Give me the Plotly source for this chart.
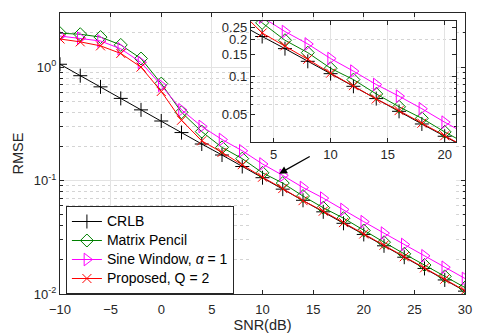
import math
import plotly.graph_objects as go

# ---------------- data ----------------
snr = [-10, -8, -6, -4, -2, 0, 2, 4, 6, 8, 10, 12, 14, 16, 18, 20, 22, 24, 26, 28, 30]
crlb = [1.06, 0.84, 0.67, 0.53, 0.42, 0.335, 0.265, 0.21, 0.168, 0.133, 0.106,
        0.084, 0.067, 0.053, 0.042, 0.0335, 0.0266, 0.0211, 0.0168, 0.0133, 0.0106]
matrix_pencil = [1.99, 1.95, 1.84, 1.57, 1.19, 0.716, 0.40, 0.27, 0.196, 0.156, 0.117,
                 0.095, 0.073, 0.0576, 0.0466, 0.0363, 0.0286, 0.0226, 0.018, 0.0143, 0.0114]
sine_window = [1.88, 1.80, 1.70, 1.45, 1.10, 0.69, 0.42, 0.30, 0.23, 0.183, 0.14,
               0.111, 0.0868, 0.070, 0.0556, 0.0434, 0.0344, 0.0273, 0.0217, 0.0172, 0.0137]
proposed = [1.77, 1.67, 1.54, 1.32, 1.0, 0.61, 0.34, 0.224, 0.177, 0.138, 0.107,
            0.085, 0.0665, 0.0537, 0.0426, 0.0338, 0.0269, 0.0213, 0.017, 0.0135, 0.0107]

series_names = ["CRLB", "Matrix Pencil", "Sine Window, <i>α</i> = 1", "Proposed, Q = 2"]
series_vals = [crlb, matrix_pencil, sine_window, proposed]

main_yticks = [0.01, 0.1, 1]
main_yticktext = ["10<sup>-2</sup>", "10<sup>-1</sup>", "10<sup>0</sup>"]
main_xticks = [-10, -5, 0, 5, 10, 15, 20, 25, 30]
inset_xticks = [5, 10, 15, 20]
inset_yticks = [0.05, 0.1, 0.15, 0.2, 0.25]
inset_yticktext = ["0.05", "0.1", "0.15", "0.2", "0.25"]

# ---------------- styles ----------------
colors = ["#000000", "#008000", "#ff00ff", "#ff0000"]
symbols = ["cross-thin-open", "diamond-open", "triangle-right-open", "x-thin-open"]
sizes = [10, 10, 11, 9]
FONT = "Liberation Sans, Arial, Helvetica, sans-serif"
AX = "#262626"
GRID = "#e3e3e3"
MINOR = "#d4d4d4"

X_RANGE = [-10, 30]
Y_RANGE = [-2, math.log10(3)]

fig = go.Figure()
for name, vals, c, s, sz in zip(series_names, series_vals, colors, symbols, sizes):
    fig.add_trace(go.Scatter(
        x=snr, y=vals, name='<span style="font-size:14px">' + name + '</span>',
        mode="lines+markers",
        line=dict(color=c, width=1),
        marker=dict(symbol=s, size=sz, color=c, line=dict(color=c, width=1)),
        xaxis="x", yaxis="y"))
for name, vals, c, s, sz in zip(series_names, series_vals, colors, symbols, sizes):
    fig.add_trace(go.Scatter(
        x=snr, y=vals, name=name, mode="lines+markers", showlegend=False,
        line=dict(color=c, width=1),
        marker=dict(symbol=s, size=sz, color=c, line=dict(color=c, width=1)),
        xaxis="x2", yaxis="y2"))

minor_main = [k * 10 ** e for e in (-2, -1) for k in range(2, 10)] + [2, 3]
minor_inset = [0.03, 0.04, 0.06, 0.07, 0.08, 0.09, 0.1, 0.2]

inset_dom_x = [0.471, 0.978]
inset_dom_y = [0.540, 0.972]

fig.update_layout(
    width=480, height=336,
    margin=dict(l=60, r=8, t=13, b=34),
    paper_bgcolor="white", plot_bgcolor="white",
    font=dict(family=FONT, size=13, color=AX),
    xaxis=dict(
        domain=[0, 1], range=X_RANGE, tickvals=main_xticks,
        showline=True, linecolor=AX, linewidth=1, mirror="allticks",
        ticks="inside", ticklen=4, tickcolor=AX, ticklabelstandoff=3,
        showgrid=True, gridcolor=GRID, gridwidth=1, zeroline=False,
        title=dict(text="SNR(dB)", font=dict(size=14.5), standoff=1),
        tickfont=dict(size=13), anchor="y"),
    yaxis=dict(
        domain=[0, 1], type="log", range=Y_RANGE,
        tickvals=main_yticks, ticktext=main_yticktext,
        showline=True, linecolor=AX, linewidth=1, mirror="allticks",
        ticks="inside", ticklen=4, tickcolor=AX,
        showgrid=True, gridcolor=GRID, gridwidth=1, zeroline=False,
        minor=dict(tickmode="array", tickvals=minor_main, ticks="inside", ticklen=2.5,
                   tickcolor=AX, showgrid=True, gridcolor=MINOR, griddash="dot"),
        title=dict(text="RMSE", font=dict(size=14.5), standoff=6),
        tickfont=dict(size=13), anchor="x"),
    xaxis2=dict(
        domain=inset_dom_x, range=[3, 21], tickvals=inset_xticks,
        showline=True, linecolor=AX, linewidth=1, mirror="allticks",
        ticks="inside", ticklen=4, tickcolor=AX,
        showgrid=True, gridcolor=GRID, zeroline=False,
        tickfont=dict(size=13), anchor="y2"),
    yaxis2=dict(
        domain=inset_dom_y, type="log", range=[math.log10(0.03), math.log10(0.28)],
        tickvals=inset_yticks, ticktext=inset_yticktext,
        showline=True, linecolor=AX, linewidth=1, mirror="allticks",
        ticks="inside", ticklen=4, tickcolor=AX,
        showgrid=False, zeroline=False,
        minor=dict(tickmode="array", tickvals=minor_inset, ticks="inside", ticklen=2.5,
                   tickcolor=AX, showgrid=True, gridcolor=MINOR, griddash="dot"),
        tickfont=dict(size=13), anchor="x2"),
    legend=dict(
        x=0.0146, y=0.0, xanchor="left", yanchor="bottom",
        bgcolor="white", bordercolor=AX, borderwidth=1,
        font=dict(size=12, color="#000000"), itemwidth=30,
        tracegroupgap=0),
    showlegend=True,
)

# white background for the inset (covers main grid) -- expressed in main-axis units
ix0 = X_RANGE[0] + inset_dom_x[0] * (X_RANGE[1] - X_RANGE[0])
ix1 = X_RANGE[0] + inset_dom_x[1] * (X_RANGE[1] - X_RANGE[0])
iy0 = Y_RANGE[0] + inset_dom_y[0] * (Y_RANGE[1] - Y_RANGE[0])
iy1 = Y_RANGE[0] + inset_dom_y[1] * (Y_RANGE[1] - Y_RANGE[0])
fig.add_shape(type="rect", xref="x", yref="y",
              x0=ix0, x1=ix1, y0=iy0, y1=iy1,
              fillcolor="white", line=dict(width=0), layer="between")

# arrow pointing at the curves near 12 dB
fig.add_annotation(x=11.65, y=math.log10(0.115), xref="x", yref="y",
                   ax=32, ay=-18, axref="pixel", ayref="pixel",
                   showarrow=True, arrowhead=2, arrowsize=1.2, arrowwidth=1.3,
                   arrowcolor="#000000", text="")

fig.write_html("out.html", config={"displayModeBar": False},
               post_script="document.body.style.margin='0';document.body.style.overflow='hidden';")
